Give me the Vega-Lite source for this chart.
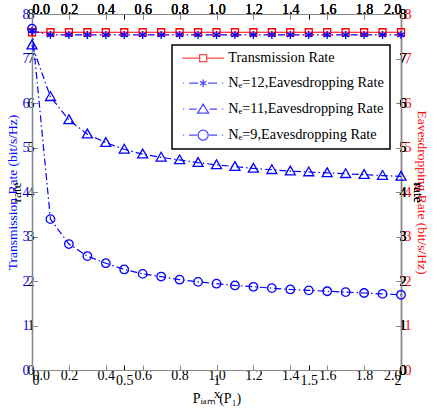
{
  "$schema": "https://vega.github.io/schema/vega-lite/v6.json",
  "width": 369,
  "height": 356,
  "autosize": {"type": "none"},
  "padding": {"left": 32, "top": 14, "right": 39, "bottom": 40},
  "config": {
    "view": {"stroke": null},
    "font": "Liberation Serif",
    "axis": {
      "grid": false,
      "labelFont": "Liberation Serif",
      "titleFont": "Liberation Serif",
      "labelFontSize": 14,
      "titleFontSize": 13.5,
      "titleFontWeight": "normal",
      "tickSize": -5,
      "tickWidth": 1,
      "domainWidth": 1.2,
      "labelPadding": 3
    },
    "legend": {
      "orient": "none",
      "legendX": 140,
      "legendY": 31,
      "strokeColor": "black",
      "strokeWidth": 1.5,
      "fillColor": "white",
      "padding": 6,
      "labelFont": "Liberation Serif",
      "labelFontSize": 14.3,
      "labelColor": "black",
      "labelLimit": 300,
      "symbolSize": 100,
      "symbolStrokeWidth": 1.3,
      "symbolOffset": 18,
      "labelOffset": 18,
      "rowPadding": 10
    }
  },
  "data": {
    "values": [
      {"x": 0, "rate": 7.59, "series": "Transmission Rate"},
      {"x": 0.1, "rate": 7.59, "series": "Transmission Rate"},
      {"x": 0.2, "rate": 7.59, "series": "Transmission Rate"},
      {"x": 0.3, "rate": 7.59, "series": "Transmission Rate"},
      {"x": 0.4, "rate": 7.59, "series": "Transmission Rate"},
      {"x": 0.5, "rate": 7.59, "series": "Transmission Rate"},
      {"x": 0.6, "rate": 7.59, "series": "Transmission Rate"},
      {"x": 0.7, "rate": 7.59, "series": "Transmission Rate"},
      {"x": 0.8, "rate": 7.59, "series": "Transmission Rate"},
      {"x": 0.9, "rate": 7.59, "series": "Transmission Rate"},
      {"x": 1.0, "rate": 7.59, "series": "Transmission Rate"},
      {"x": 1.1, "rate": 7.59, "series": "Transmission Rate"},
      {"x": 1.2, "rate": 7.59, "series": "Transmission Rate"},
      {"x": 1.3, "rate": 7.59, "series": "Transmission Rate"},
      {"x": 1.4, "rate": 7.59, "series": "Transmission Rate"},
      {"x": 1.5, "rate": 7.59, "series": "Transmission Rate"},
      {"x": 1.6, "rate": 7.59, "series": "Transmission Rate"},
      {"x": 1.7, "rate": 7.59, "series": "Transmission Rate"},
      {"x": 1.8, "rate": 7.59, "series": "Transmission Rate"},
      {"x": 1.9, "rate": 7.59, "series": "Transmission Rate"},
      {"x": 2.0, "rate": 7.59, "series": "Transmission Rate"},
      {"x": 0, "rate": 7.62, "series": "Nₑ=12,Eavesdropping Rate"},
      {"x": 0.1, "rate": 7.53, "series": "Nₑ=12,Eavesdropping Rate"},
      {"x": 0.2, "rate": 7.53, "series": "Nₑ=12,Eavesdropping Rate"},
      {"x": 0.3, "rate": 7.53, "series": "Nₑ=12,Eavesdropping Rate"},
      {"x": 0.4, "rate": 7.53, "series": "Nₑ=12,Eavesdropping Rate"},
      {"x": 0.5, "rate": 7.53, "series": "Nₑ=12,Eavesdropping Rate"},
      {"x": 0.6, "rate": 7.53, "series": "Nₑ=12,Eavesdropping Rate"},
      {"x": 0.7, "rate": 7.53, "series": "Nₑ=12,Eavesdropping Rate"},
      {"x": 0.8, "rate": 7.53, "series": "Nₑ=12,Eavesdropping Rate"},
      {"x": 0.9, "rate": 7.53, "series": "Nₑ=12,Eavesdropping Rate"},
      {"x": 1.0, "rate": 7.53, "series": "Nₑ=12,Eavesdropping Rate"},
      {"x": 1.1, "rate": 7.53, "series": "Nₑ=12,Eavesdropping Rate"},
      {"x": 1.2, "rate": 7.53, "series": "Nₑ=12,Eavesdropping Rate"},
      {"x": 1.3, "rate": 7.53, "series": "Nₑ=12,Eavesdropping Rate"},
      {"x": 1.4, "rate": 7.53, "series": "Nₑ=12,Eavesdropping Rate"},
      {"x": 1.5, "rate": 7.53, "series": "Nₑ=12,Eavesdropping Rate"},
      {"x": 1.6, "rate": 7.53, "series": "Nₑ=12,Eavesdropping Rate"},
      {"x": 1.7, "rate": 7.53, "series": "Nₑ=12,Eavesdropping Rate"},
      {"x": 1.8, "rate": 7.53, "series": "Nₑ=12,Eavesdropping Rate"},
      {"x": 1.9, "rate": 7.53, "series": "Nₑ=12,Eavesdropping Rate"},
      {"x": 2.0, "rate": 7.53, "series": "Nₑ=12,Eavesdropping Rate"},
      {"x": 0, "rate": 7.30, "series": "Nₑ=11,Eavesdropping Rate"},
      {"x": 0.1, "rate": 6.14, "series": "Nₑ=11,Eavesdropping Rate"},
      {"x": 0.2, "rate": 5.62, "series": "Nₑ=11,Eavesdropping Rate"},
      {"x": 0.3, "rate": 5.30, "series": "Nₑ=11,Eavesdropping Rate"},
      {"x": 0.4, "rate": 5.11, "series": "Nₑ=11,Eavesdropping Rate"},
      {"x": 0.5, "rate": 4.96, "series": "Nₑ=11,Eavesdropping Rate"},
      {"x": 0.6, "rate": 4.85, "series": "Nₑ=11,Eavesdropping Rate"},
      {"x": 0.7, "rate": 4.78, "series": "Nₑ=11,Eavesdropping Rate"},
      {"x": 0.8, "rate": 4.72, "series": "Nₑ=11,Eavesdropping Rate"},
      {"x": 0.9, "rate": 4.66, "series": "Nₑ=11,Eavesdropping Rate"},
      {"x": 1.0, "rate": 4.61, "series": "Nₑ=11,Eavesdropping Rate"},
      {"x": 1.1, "rate": 4.57, "series": "Nₑ=11,Eavesdropping Rate"},
      {"x": 1.2, "rate": 4.53, "series": "Nₑ=11,Eavesdropping Rate"},
      {"x": 1.3, "rate": 4.50, "series": "Nₑ=11,Eavesdropping Rate"},
      {"x": 1.4, "rate": 4.47, "series": "Nₑ=11,Eavesdropping Rate"},
      {"x": 1.5, "rate": 4.45, "series": "Nₑ=11,Eavesdropping Rate"},
      {"x": 1.6, "rate": 4.43, "series": "Nₑ=11,Eavesdropping Rate"},
      {"x": 1.7, "rate": 4.41, "series": "Nₑ=11,Eavesdropping Rate"},
      {"x": 1.8, "rate": 4.39, "series": "Nₑ=11,Eavesdropping Rate"},
      {"x": 1.9, "rate": 4.37, "series": "Nₑ=11,Eavesdropping Rate"},
      {"x": 2.0, "rate": 4.35, "series": "Nₑ=11,Eavesdropping Rate"},
      {"x": 0, "rate": 7.67, "series": "Nₑ=9,Eavesdropping Rate"},
      {"x": 0.1, "rate": 3.39, "series": "Nₑ=9,Eavesdropping Rate"},
      {"x": 0.2, "rate": 2.83, "series": "Nₑ=9,Eavesdropping Rate"},
      {"x": 0.3, "rate": 2.56, "series": "Nₑ=9,Eavesdropping Rate"},
      {"x": 0.4, "rate": 2.40, "series": "Nₑ=9,Eavesdropping Rate"},
      {"x": 0.5, "rate": 2.26, "series": "Nₑ=9,Eavesdropping Rate"},
      {"x": 0.6, "rate": 2.16, "series": "Nₑ=9,Eavesdropping Rate"},
      {"x": 0.7, "rate": 2.10, "series": "Nₑ=9,Eavesdropping Rate"},
      {"x": 0.8, "rate": 2.03, "series": "Nₑ=9,Eavesdropping Rate"},
      {"x": 0.9, "rate": 1.98, "series": "Nₑ=9,Eavesdropping Rate"},
      {"x": 1.0, "rate": 1.94, "series": "Nₑ=9,Eavesdropping Rate"},
      {"x": 1.1, "rate": 1.90, "series": "Nₑ=9,Eavesdropping Rate"},
      {"x": 1.2, "rate": 1.87, "series": "Nₑ=9,Eavesdropping Rate"},
      {"x": 1.3, "rate": 1.84, "series": "Nₑ=9,Eavesdropping Rate"},
      {"x": 1.4, "rate": 1.81, "series": "Nₑ=9,Eavesdropping Rate"},
      {"x": 1.5, "rate": 1.79, "series": "Nₑ=9,Eavesdropping Rate"},
      {"x": 1.6, "rate": 1.77, "series": "Nₑ=9,Eavesdropping Rate"},
      {"x": 1.7, "rate": 1.75, "series": "Nₑ=9,Eavesdropping Rate"},
      {"x": 1.8, "rate": 1.73, "series": "Nₑ=9,Eavesdropping Rate"},
      {"x": 1.9, "rate": 1.71, "series": "Nₑ=9,Eavesdropping Rate"},
      {"x": 2.0, "rate": 1.69, "series": "Nₑ=9,Eavesdropping Rate"}
    ]
  },
  "layer": [
    {
      "mark": {"type": "line", "strokeWidth": 1.2},
      "encoding": {
        "x": {
          "field": "x", "type": "quantitative",
          "scale": {"domain": [0, 2], "nice": false, "zero": false},
          "axis": {"orient": "bottom", "values": [0, 0.5, 1, 1.5, 2], "format": "~g", "title": "Pᵢₐₘ (P₁)", "titleFontSize": 14, "domainColor": "black", "tickColor": "black", "labelColor": "black", "titleColor": "black", "labelPadding": 8, "titlePadding": 4}
        },
        "y": {
          "field": "rate", "type": "quantitative",
          "scale": {"domain": [0, 8], "nice": false},
          "axis": {"orient": "left", "values": [0, 1, 2, 3, 4, 5, 6, 7, 8], "title": "Transmission Rate  (bit/s/Hz)", "domainColor": "#0000ff", "tickColor": "#0000ff", "labelColor": "#0000ff", "titleColor": "#0000ff", "labelPadding": 8, "titlePadding": 3}
        },
        "stroke": {
          "field": "series", "type": "nominal",
          "scale": {"range": ["#0000ff", "#0000ff", "#0000ff", "#ff0000"]},
          "legend": null
        },
        "strokeDash": {
          "field": "series", "type": "nominal",
          "scale": {"range": [[7, 3, 1.5, 3], [7, 3, 1.5, 3], [7, 3, 1.5, 3], [1, 0]]},
          "legend": null
        }
      }
    },
    {
      "transform": [{"filter": {"field": "series", "equal": "Transmission Rate"}}],
      "mark": {"type": "point", "filled": false, "size": 100, "strokeWidth": 1.3, "opacity": 1, "color": "#ff0000", "shape": "M-0.7,-0.7H0.7V0.7H-0.7Z"},
      "encoding": {
        "x": {
          "field": "x", "type": "quantitative",
          "axis": {"orient": "top", "values": [0, 0.5, 1, 1.5, 2], "labels": false, "title": null, "domainColor": "black", "tickColor": "black"}
        },
        "y": {
          "field": "rate", "type": "quantitative",
          "axis": {"orient": "right", "values": [0, 1, 2, 3, 4, 5, 6, 7, 8], "title": "Eavesdropping Rate (bit/s/Hz)", "domainColor": "#a01050", "tickColor": "#ff0000", "labelColor": "#ff0000", "titleColor": "#ff0000", "labelPadding": 8, "titlePadding": 3}
        }
      }
    },
    {
      "transform": [{"filter": {"field": "series", "equal": "Nₑ=12,Eavesdropping Rate"}}],
      "mark": {"type": "point", "filled": false, "size": 100, "strokeWidth": 1.3, "opacity": 1, "color": "#0000ff", "shape": "M0,-0.8V0.8M-0.7,-0.4L0.7,0.4M-0.7,0.4L0.7,-0.4"},
      "encoding": {
        "x": {"field": "x", "type": "quantitative"},
        "y": {"field": "rate", "type": "quantitative"}
      }
    },
    {
      "transform": [{"filter": {"field": "series", "equal": "Nₑ=11,Eavesdropping Rate"}}],
      "mark": {"type": "point", "filled": false, "size": 100, "strokeWidth": 1.3, "opacity": 1, "color": "#0000ff", "shape": "M0,-1L-1,0.75H1Z"},
      "encoding": {
        "x": {"field": "x", "type": "quantitative"},
        "y": {"field": "rate", "type": "quantitative"}
      }
    },
    {
      "transform": [{"filter": {"field": "series", "equal": "Nₑ=9,Eavesdropping Rate"}}],
      "mark": {"type": "point", "filled": false, "size": 100, "strokeWidth": 1.3, "opacity": 1, "color": "#0000ff", "shape": "M0.85,0A0.85,0.85 0 1,1 -0.85,0A0.85,0.85 0 1,1 0.85,0Z"},
      "encoding": {
        "x": {"field": "x", "type": "quantitative"},
        "y": {"field": "rate", "type": "quantitative"}
      }
    },
    {
      "mark": {"type": "point", "filled": false, "clip": true, "strokeWidth": 1.3},
      "encoding": {
        "x": {"field": "x", "type": "quantitative"},
        "y": {"datum": 20, "type": "quantitative"},
        "color": {
          "field": "series", "type": "nominal",
          "scale": {"domain": ["Transmission Rate", "Nₑ=12,Eavesdropping Rate", "Nₑ=11,Eavesdropping Rate", "Nₑ=9,Eavesdropping Rate"], "range": ["#ff0000", "#0000ff", "#0000ff", "#0000ff"]},
          "legend": {"title": null}
        },
        "shape": {
          "field": "series", "type": "nominal",
          "scale": {
            "domain": ["Transmission Rate", "Nₑ=12,Eavesdropping Rate", "Nₑ=11,Eavesdropping Rate", "Nₑ=9,Eavesdropping Rate"],
            "range": [
              "M-4.2,0H-0.7M0.7,0H4.2M-0.7,-0.7H0.7V0.7H-0.7Z",
              "M-4,0H-3.8M-2.8,0H-1M1,0H2.8M3.8,0H4M0,-0.75V0.75M-0.65,-0.375L0.65,0.375M-0.65,0.375L0.65,-0.375",
              "M-4,0H-3.8M-2.8,0H-1.3M1.3,0H2.8M3.8,0H4M0,-1L-1.1,0.8H1.1Z",
              "M-4,0H-3.8M-2.8,0H-1.2M1.2,0H2.8M3.8,0H4M1,0A1,1 0 1,1 -1,0A1,1 0 1,1 1,0Z"
            ]
          },
          "legend": {"title": null}
        }
      }
    }
  ]
}
